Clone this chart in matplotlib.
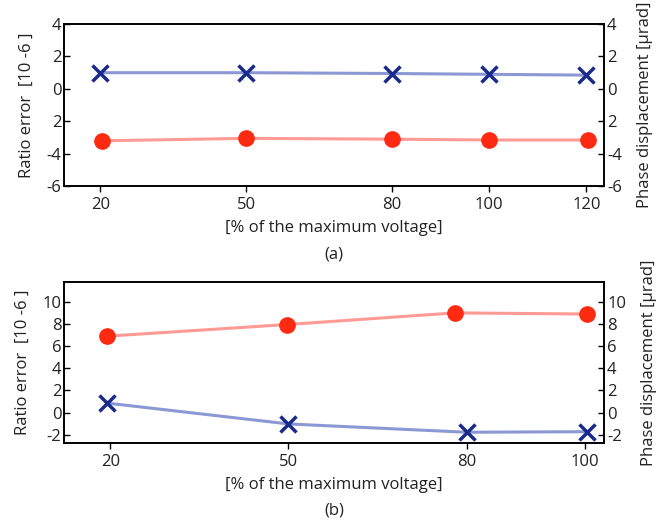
import matplotlib
matplotlib.use("Agg")
import matplotlib.pyplot as plt

plt.rcParams["font.family"] = ["Open Sans", "DejaVu Sans"]

# panel (a)
a_ticks = [20, 50, 80, 100, 120]
a_ratio_x = [20.3, 50, 80, 100, 120.3]
a_ratio = [-3.2, -3.05, -3.1, -3.15, -3.15]
a_phase_x = [20, 50, 80, 100, 120]
a_phase = [1.0, 1.0, 0.95, 0.9, 0.85]
a_yticks = [4, 2, 0, -2, -4, -6]
a_ylabels = ["4", "2", "0", "2", "-4", "-6"]

# panel (b)
b_ticks = [20, 50, 80, 100]
b_ratio_x = [19.5, 49.8, 78, 100.3]
b_ratio = [6.9, 7.95, 9.0, 8.9]
b_phase_x = [19.5, 50, 80, 100.3]
b_phase = [0.85, -1.03, -1.78, -1.73]
b_yticks = [10, 8, 6, 4, 2, 0, -2]
b_ylabels = ["10", "8", "6", "4", "2", "0", "-2"]

RED_LINE = "#ff9a94"
RED_MARK = "#ff2a12"
BLUE_LINE = "#8c98d4"
BLUE_MARK = "#1a2a8c"
TXT = "#222222"
FS = 12


def panel(rect, ticks, rx, ry, px, py, yticks, ylabels, xlim, ylim, tag):
    ax = fig.add_axes(rect)
    ax.plot(rx, ry, color=RED_LINE, lw=2.2, zorder=2)
    ax.plot(px, py, color=BLUE_LINE, lw=2.2, zorder=2)
    ax.plot(rx, ry, "o", color=RED_MARK, ms=11, zorder=3)
    ax.plot(px, py, "x", color=BLUE_MARK, ms=11, mew=2.5, zorder=3)
    ax.set_xlim(*xlim)
    ax.set_ylim(*ylim)
    ax.set_xticks(ticks)
    ax.set_xticklabels([str(t) for t in ticks], fontsize=FS, color=TXT)
    ax.set_yticks(yticks)
    ax.set_yticklabels(ylabels, fontsize=FS, color=TXT)
    ax.tick_params(axis="x", direction="out", length=4, width=1, pad=4)
    ax.tick_params(axis="y", direction="in", length=4, width=1, pad=2)
    for s in ax.spines.values():
        s.set_linewidth(1.2)
    ax.set_ylabel("Ratio error  [10 -6 ]", fontsize=FS, color=TXT, labelpad=8)
    ax.set_xlabel("[% of the maximum voltage]", fontsize=FS, color=TXT,
                  labelpad=5)
    ax2 = ax.twinx()
    ax2.set_ylim(*ylim)
    ax2.set_yticks(yticks)
    ax2.set_yticklabels(ylabels, fontsize=FS, color=TXT)
    ax2.tick_params(axis="y", direction="in", length=4, width=1, pad=2)
    for s in ax2.spines.values():
        s.set_linewidth(1.2)
    ax2.set_ylabel("Phase displacement [µrad]", fontsize=FS, color=TXT,
                   labelpad=11)
    ax.text(0.5, -0.42, tag, transform=ax.transAxes, ha="center", va="center",
            fontsize=FS, color=TXT)
    return ax


fig = plt.figure(figsize=(6.67, 5.23), dpi=100)
panel([0.096, 0.644, 0.81, 0.31], a_ticks, a_ratio_x, a_ratio, a_phase_x, a_phase,
      a_yticks, a_ylabels, (12.5, 123.7), (-6, 4), "(a)")
panel([0.096, 0.153, 0.81, 0.308], b_ticks, b_ratio_x, b_ratio, b_phase_x, b_phase,
      b_yticks, b_ylabels, (12.2, 103.2), (-2.75, 11.8), "(b)")
fig.savefig("out.png", dpi=100)
